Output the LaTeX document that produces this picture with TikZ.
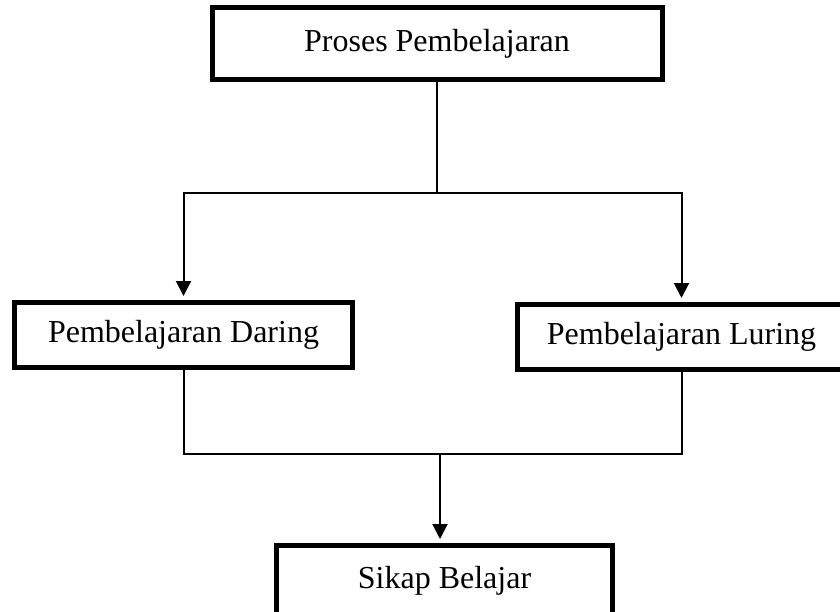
\documentclass[tikz,border=0pt]{standalone}
\usepackage{fontspec}
\setmainfont{Liberation Serif}
\usetikzlibrary{arrows.meta}
\tikzstyle{box}=[draw, line width=5pt, inner sep=0pt, font=\fontsize{32}{38}\selectfont]
\tikzstyle{link}=[line width=2pt]
\tikzstyle{flow}=[link, -{Triangle[width=15pt,length=15pt]}, shorten >=4pt]

\begin{document}
\begin{tikzpicture}[x=1pt, y=-1pt]
    \useasboundingbox (0,0) rectangle (840,611);
% Boxes
    \node[box, minimum width=450pt, minimum height=72pt] (proses) at (437,43.5) {Proses Pembelajaran};
    \node[box, minimum width=338pt, minimum height=65pt] (daring) at (183.5,335) {Pembelajaran Daring};
    \node[box, minimum width=328pt, minimum height=65pt] (luring) at (681.5,337) {Pembelajaran Luring};
    \node[box, minimum width=336pt, minimum height=70pt] (sikap) at (444.5,580.5) {Sikap Belajar};
% Junctions
    \coordinate (split) at (437,193);
    \coordinate (join) at (440,454);
% Links
    \draw[link] (proses.south) -- (split);
    \draw[flow] (split) -| (daring.north);
    \draw[flow] (split) -| (luring.north);
    \draw[link] (daring.south) |- (join) -| (luring.south);
    \draw[flow] (join) -- (join |- sikap.north);
\end{tikzpicture}
\end{document}
